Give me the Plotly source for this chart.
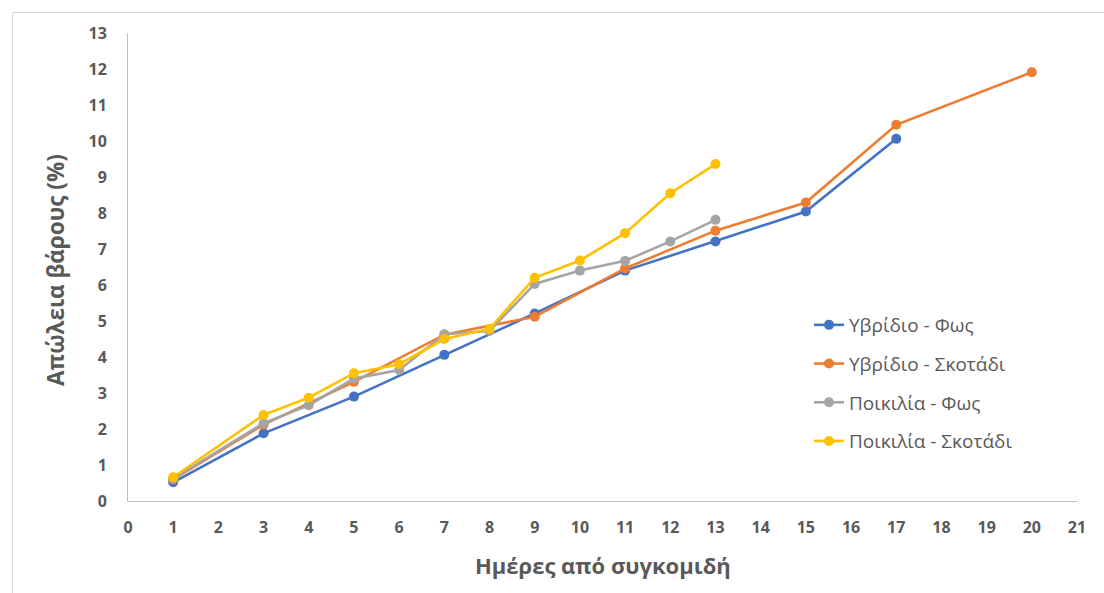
import plotly.graph_objects as go

# Weight loss (%) over days after harvest, per treatment
days_hybrid_light = [1, 3, 5, 7, 9, 11, 13, 15, 17]
loss_hybrid_light = [0.52, 1.88, 2.90, 4.06, 5.21, 6.40, 7.21, 8.04, 10.06]

days_hybrid_dark = [1, 3, 5, 7, 9, 11, 13, 15, 17, 20]
loss_hybrid_dark = [0.60, 2.12, 3.31, 4.62, 5.12, 6.46, 7.51, 8.29, 10.45, 11.91]

days_variety_light = [1, 3, 4, 5, 6, 7, 8, 9, 10, 11, 12, 13]
loss_variety_light = [0.62, 2.16, 2.66, 3.40, 3.64, 4.63, 4.72, 6.03, 6.40, 6.67, 7.21, 7.81]

days_variety_dark = [1, 3, 4, 5, 6, 7, 8, 9, 10, 11, 12, 13]
loss_variety_dark = [0.66, 2.39, 2.87, 3.55, 3.80, 4.50, 4.78, 6.20, 6.68, 7.44, 8.55, 9.36]

series_names = ["Υβρίδιο - Φως", "Υβρίδιο - Σκοτάδι", "Ποικιλία - Φως", "Ποικιλία - Σκοτάδι"]
series_colors = ["#4472C4", "#ED7D31", "#A5A5A5", "#FFC000"]

x_title = "Ημέρες από συγκομιδή"
y_title = "Απώλεια βάρους (%)"

x_ticks = list(range(0, 22))
y_ticks = list(range(0, 14))

TEXT = "#595959"
FONT = "Open Sans"

fig = go.Figure()
all_series = [
    (days_hybrid_light, loss_hybrid_light),
    (days_hybrid_dark, loss_hybrid_dark),
    (days_variety_light, loss_variety_light),
    (days_variety_dark, loss_variety_dark),
]
for i, ((xs, ys), name, color) in enumerate(zip(all_series, series_names, series_colors)):
    fig.add_trace(go.Scatter(
        x=xs, y=ys, name=name, mode="lines+markers",
        legendgroup=f"g{i}",
        line=dict(color=color, width=2.6),
        marker=dict(color=color, size=10),
    ))

# plot-area pixel geometry -> paper coordinates
W, H = 1104, 593
L, R, T, B = 128, 27, 33, 92
pw, ph = W - L - R, H - T - B

def px(xp):
    return (xp - L) / pw

def py(yp):
    return (H - B - yp) / ph

fig.update_layout(
    width=W, height=H,
    margin=dict(l=L, r=R, t=T, b=B),
    paper_bgcolor="white", plot_bgcolor="white",
    font=dict(family=FONT, color=TEXT),
    showlegend=True,
    legend=dict(
        x=px(809), y=py(306), xanchor="left", yanchor="top",
        font=dict(family=FONT, size=19, color=TEXT),
        tracegroupgap=11, traceorder="grouped",
        bgcolor="rgba(0,0,0,0)",
    ),
    xaxis=dict(
        range=[0, 21], tickvals=x_ticks, ticktext=[str(v) for v in x_ticks],
        showgrid=False, zeroline=False, showline=True, linecolor="#BFBFBF", linewidth=1,
        ticks="", ticklabelstandoff=12,
        tickfont=dict(family=FONT, size=16, color=TEXT, weight="bold"),
    ),
    yaxis=dict(
        range=[0, 13], tickvals=y_ticks, ticktext=[str(v) for v in y_ticks],
        showgrid=False, zeroline=False, showline=True, linecolor="#BFBFBF", linewidth=1,
        ticks="", ticklabelstandoff=17,
        tickfont=dict(family=FONT, size=16, color=TEXT, weight="bold"),
    ),
    annotations=[
        dict(text=x_title, x=px(603), y=py(565), xref="paper", yref="paper",
             xanchor="center", yanchor="middle", showarrow=False,
             font=dict(family=FONT, size=22, color=TEXT, weight="bold")),
        dict(text=y_title, x=px(55), y=py(270), xref="paper", yref="paper",
             xanchor="center", yanchor="middle", showarrow=False, textangle=-90,
             font=dict(family=FONT, size=22.5, color=TEXT, weight="bold")),
    ],
    shapes=[
        dict(type="rect", xref="paper", yref="paper",
             x0=px(12.5), x1=px(1115), y0=py(12.5), y1=py(610),
             line=dict(color="#D9D9D9", width=1), fillcolor="rgba(0,0,0,0)", layer="below"),
    ],
)

fig.write_html("out.html")
